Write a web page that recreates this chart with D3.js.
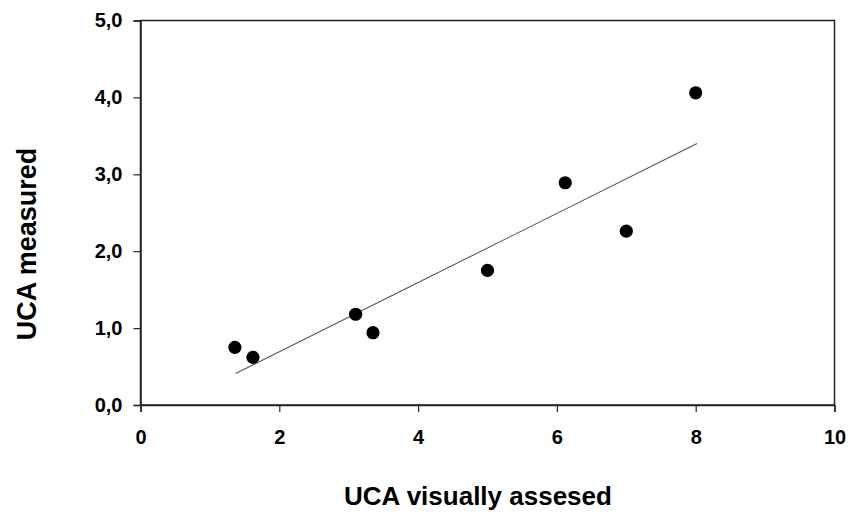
<!DOCTYPE html>
<html><head><meta charset="utf-8">
<script src="https://cdn.jsdelivr.net/npm/d3@7"></script>
<style>body{margin:0;background:#fff}svg{display:block}</style>
</head><body>
<svg id="c" width="849" height="514"></svg>
<script>
const xVals = [1.36, 1.62, 3.10, 3.35, 5.00, 6.12, 7.00, 8.00];
const yVals = [0.75, 0.62, 1.18, 0.94, 1.75, 2.89, 2.26, 4.06];
const fitLine = [[1.37, 0.41], [8.02, 3.40]];
const xTicks = [0, 2, 4, 6, 8, 10];
const yTicks = [0, 1, 2, 3, 4, 5];
const xTitle = "UCA visually assesed";
const yTitle = "UCA measured";

const svg = d3.select("#c");
const L = 140.5, R = 834.5, T = 20.5, B = 405;
const x = d3.scaleLinear().domain([0, 10]).range([L, R]);
const y = d3.scaleLinear().domain([0, 5]).range([B, T]);
const font = "Arial, 'Liberation Sans', sans-serif";

// frame
svg.append("rect").attr("x", L).attr("y", T).attr("width", R - L).attr("height", B - T)
  .attr("fill", "none").attr("stroke", "#222").attr("stroke-width", 1.5);

const fmt = d => d3.format(".1f")(d).replace(".", ",");
const gx = svg.append("g").attr("transform", `translate(0,${B})`)
  .call(d3.axisBottom(x).tickValues(xTicks).tickSize(7).tickPadding(18).tickFormat(d3.format("d")));
const gy = svg.append("g").attr("transform", `translate(${L},0)`)
  .call(d3.axisLeft(y).tickValues(yTicks).tickSize(7).tickPadding(11).tickFormat(fmt));
[gx, gy].forEach(g => {
  g.select(".domain").attr("stroke", "#222").attr("stroke-width", 1.5);
  g.selectAll(".tick line").attr("stroke", "#222").attr("stroke-width", 1.2);
  g.selectAll("text").attr("fill", "#000").attr("font-family", font)
    .attr("font-weight", "bold").attr("font-size", 20);
});

svg.append("line")
  .attr("x1", x(fitLine[0][0])).attr("y1", y(fitLine[0][1]))
  .attr("x2", x(fitLine[1][0])).attr("y2", y(fitLine[1][1]))
  .attr("stroke", "#555").attr("stroke-width", 1.1);

svg.append("g").selectAll("circle").data(xVals).join("circle")
  .attr("cx", d => x(d)).attr("cy", (d, i) => y(yVals[i])).attr("r", 6.6).attr("fill", "#000");

svg.append("text").attr("x", 478).attr("y", 505).attr("text-anchor", "middle")
  .attr("font-family", font).attr("font-weight", "bold").attr("font-size", 26).text(xTitle);
svg.append("text").attr("transform", `translate(35.5,244) rotate(-90)`)
  .attr("text-anchor", "middle")
  .attr("font-family", font).attr("font-weight", "bold").attr("font-size", 27).text(yTitle);
</script>
</body></html>
